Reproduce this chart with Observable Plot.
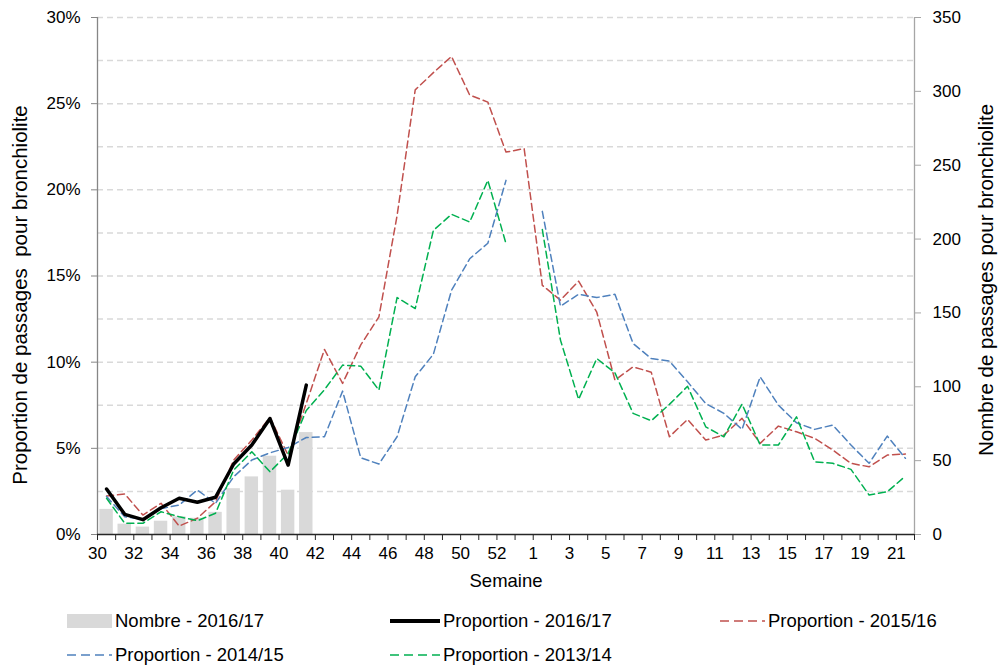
<!DOCTYPE html>
<html><head><meta charset="utf-8">
<script src="https://cdn.jsdelivr.net/npm/d3@7"></script>
<script src="https://cdn.jsdelivr.net/npm/@observablehq/plot@0.6"></script>
<style>
body{margin:0;background:#fff;font-family:"Liberation Sans",Arial,sans-serif;}
#wrap{position:relative;width:1003px;height:666px;overflow:hidden;}
.leg{position:absolute;font-size:18.5px;color:#000;display:flex;align-items:center;white-space:nowrap;height:22px;}
.leg svg{display:block;}
</style></head><body><div id="wrap"><div id="chart"></div></div>
<script>
// Weeks (categories): season from week 30 to week 21 of next year
const weeks = [30,31,32,33,34,35,36,37,38,39,40,41,42,43,44,45,46,47,48,49,50,51,52,53,
               1,2,3,4,5,6,7,8,9,10,11,12,13,14,15,16,17,18,19,20,21];
// Nombre de passages - 2016/17 (right axis)
const nombre2016 = [17,7,5,9,12,11,15,31,39,53,30,69];
// Proportion - 2016/17 (%)
const prop2016 = [2.64,1.17,0.86,1.55,2.1,1.87,2.16,4.09,5.19,6.73,4.03,8.67];
// Proportion - 2015/16 (%)
const prop2015 = [2.23,2.35,1.13,1.81,0.49,0.94,1.9,4.32,5.48,6.79,4.6,7.6,
  10.74,8.77,11.0,12.63,18.5,25.8,26.8,27.74,25.5,25.09,22.19,22.39,
  14.46,13.6,14.7,12.9,8.96,9.73,9.42,5.67,6.68,5.48,5.77,6.74,5.29,6.29,5.96,5.58,4.9,4.13,3.93,4.61,4.67];
// Proportion - 2014/15 (%)
const prop2014 = [2.2,1.03,0.88,1.5,1.71,2.58,1.81,3.35,4.32,4.74,5.05,5.63,
  5.67,8.32,4.45,4.09,5.67,9.15,10.46,14.17,16.0,16.9,20.55,null,
  18.75,13.25,13.94,13.75,13.94,11.08,10.21,10.06,8.86,7.6,7.03,6.1,9.15,7.51,6.48,6.1,6.35,5.19,4.13,5.71,4.42];
// Proportion - 2013/14 (%)
const prop2013 = [2.1,0.65,0.65,1.32,1.03,0.8,1.23,3.74,4.8,3.64,4.7,7.2,
  8.4,9.83,9.77,8.38,13.75,13.11,17.65,18.58,18.13,20.55,16.88,null,
  17.7,11.28,7.84,10.21,9.38,7.03,6.6,7.55,8.6,6.25,5.67,7.57,5.19,5.19,6.83,4.22,4.13,3.78,2.29,2.48,3.39];
// Tick labels
const leftTicks = [0,5,10,15,20,25,30];
const rightTicks = [0,50,100,150,200,250,300,350];
const gridTicks = [2.5,5,7.5,10,12.5,15,17.5,20,22.5,25,27.5,30];

const N = weeks.length;
const maxLeft = 30, maxRight = 350;
const toY = c => c * maxLeft / maxRight;
const rows = arr => arr.map((v, i) => ({x: i + 0.5, y: v}));
const font = "'Liberation Sans', Arial, sans-serif";

const chart = Plot.plot({
  width: 1003, height: 600,
  marginLeft: 97, marginRight: 89, marginTop: 17, marginBottom: 66,
  style: {fontFamily: font, fontSize: "17px", color: "#000", background: "#fff"},
  x: {domain: [0, N]},
  y: {domain: [0, maxLeft]},
  marks: [
    Plot.ruleY(gridTicks, {stroke: "#d9d9d9", strokeWidth: 1.5, strokeDasharray: "6,4"}),
    Plot.rectY(nombre2016, {x1: (d, i) => i + 0.13, x2: (d, i) => i + 0.87, y1: 0, y2: d => toY(d), fill: "#d9d9d9"}),
    Plot.line(rows(prop2015), {x: "x", y: "y", stroke: "#C0504D", strokeWidth: 1.5, strokeDasharray: "7,4"}),
    Plot.line(rows(prop2014), {x: "x", y: "y", stroke: "#4F81BD", strokeWidth: 1.5, strokeDasharray: "7,4"}),
    Plot.line(rows(prop2013), {x: "x", y: "y", stroke: "#00B050", strokeWidth: 1.5, strokeDasharray: "7,4"}),
    Plot.line(rows(prop2016), {x: "x", y: "y", stroke: "#000", strokeWidth: 3.5}),
    Plot.ruleX([0], {stroke: "#868686", strokeWidth: 1.3}),
    Plot.ruleX([N], {stroke: "#a6a6a6", strokeWidth: 1.3}),
    Plot.ruleY([0], {stroke: "#262626", strokeWidth: 1.3}),
    Plot.axisY(leftTicks, {anchor: "left", tickFormat: d => d + "%", tickSize: 6, tickPadding: 11, stroke: "#868686", fill: "#000", label: null}),
    Plot.axisY(rightTicks.map(toY), {anchor: "right", tickFormat: d => String(Math.round(d * maxRight / maxLeft)), tickSize: 6, tickPadding: 12, stroke: "#a6a6a6", fill: "#000", label: null}),
    Plot.axisX(d3.range(0, N + 1), {tickFormat: () => "", tickSize: 6, stroke: "#262626", label: null}),
    Plot.axisX(d3.range(0, N, 2), {tickFormat: i => String(weeks[i]), tickSize: 0, tickPadding: 12, fill: "#000", label: null}),
    Plot.text(["Proportion de passages  pour bronchiolite"], {frameAnchor: "left", textAnchor: "middle", dx: -77, dy: 19, rotate: -90, fontSize: 20.5, fill: "#000"}),
    Plot.text(["Nombre de passages pour bronchiolite"], {frameAnchor: "right", textAnchor: "middle", dx: 72, dy: 4, rotate: -90, fontSize: 20.5, fill: "#000"}),
    Plot.text(["Semaine"], {frameAnchor: "bottom", dy: 52, fontSize: 18.5, fill: "#000"})
  ]
});
document.getElementById("chart").appendChild(chart);

// Legend (HTML, below the plot)
const legendItems = [
  {label: "Nombre - 2016/17", kind: "rect", color: "#d9d9d9", left: 67, top: 621, w: 48},
  {label: "Proportion - 2016/17", kind: "solid", color: "#000", left: 390, top: 621, w: 53},
  {label: "Proportion - 2015/16", kind: "dash", color: "#C0504D", left: 720, top: 621, w: 48},
  {label: "Proportion - 2014/15", kind: "dash", color: "#4F81BD", left: 67, top: 655, w: 48},
  {label: "Proportion - 2013/14", kind: "dash", color: "#00B050", left: 390, top: 655, w: 53}
];
const wrap = document.getElementById("wrap");
for (const it of legendItems) {
  const div = document.createElement("div");
  div.className = "leg";
  div.style.left = it.left + "px";
  div.style.top = (it.top - 11) + "px";
  const sw = it.w - 3;
  let shape;
  if (it.kind === "rect") shape = `<rect x="0" y="4" width="${sw}" height="14" fill="${it.color}"/>`;
  else if (it.kind === "solid") shape = `<line x1="0" x2="${sw}" y1="11" y2="11" stroke="${it.color}" stroke-width="4"/>`;
  else shape = `<line x1="0" x2="${sw}" y1="11" y2="11" stroke="${it.color}" stroke-width="1.5" stroke-dasharray="9,5"/>`;
  div.innerHTML = `<svg width="${it.w}" height="22">${shape}</svg><span>${it.label}</span>`;
  wrap.appendChild(div);
}
</script>
</body></html>
